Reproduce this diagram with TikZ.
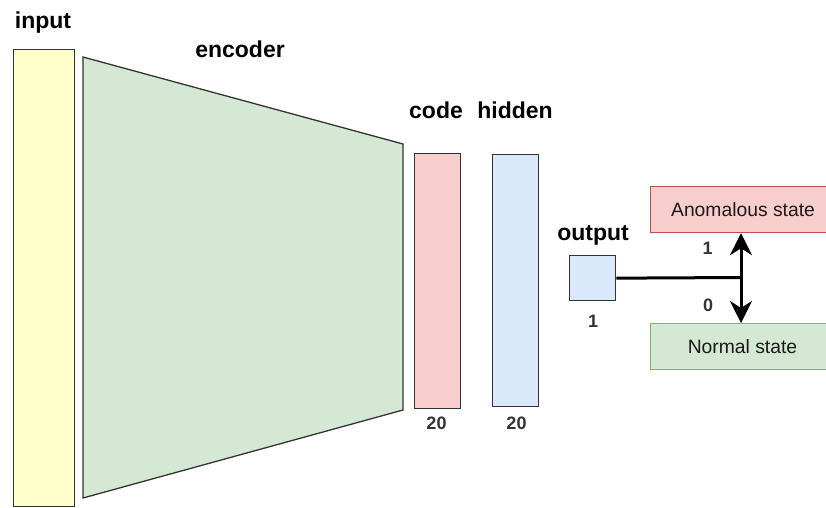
\documentclass[tikz,border=0pt]{standalone}
\usepackage{fontspec}
\setmainfont{Liberation Sans}
\usetikzlibrary{arrows.meta}

\definecolor{inyellow}{HTML}{FFFFCC}
\definecolor{encgreen}{HTML}{D5E8D4}
\definecolor{codered}{HTML}{F8CECC}
\definecolor{hidblue}{HTML}{DAE8FC}
\definecolor{redline}{HTML}{B85450}
\definecolor{greenline}{HTML}{82B366}
\definecolor{darkline}{HTML}{333333}
\definecolor{darktext}{HTML}{1A1A1A}

\tikzset{
  layer/.style={draw=darkline, line width=1.3pt, inner sep=0pt, anchor=north west},
  statebox/.style={line width=1.2pt, inner sep=0pt, anchor=north west},
  title/.style={font=\fontsize{23}{27}\selectfont\bfseries, anchor=base, inner sep=0pt},
  dimlabel/.style={font=\fontsize{18}{20}\selectfont\bfseries, text=darkline, anchor=base, inner sep=0pt},
  statetext/.style={font=\fontsize{19.3}{22}\selectfont, text=darktext, anchor=base, inner sep=0pt},
  wire/.style={line width=3pt, black},
  decision/.style={wire, -{Stealth[length=22pt, width=22pt, inset=7pt]}}
}

\begin{document}
\begin{tikzpicture}[x=1pt, y=-1pt]
  \useasboundingbox (0,0) rectangle (826,507);
  \clip (0,0) rectangle (826,507);

  % input layer
  \node[layer, fill=inyellow, minimum width=61pt, minimum height=457pt] (input) at (12.5,49) {};

  % encoder as a trapezoid narrowing towards the code layer
  \coordinate (encTL) at (83,57);
  \coordinate (encTR) at (403,144);
  \coordinate (encBR) at (403,410);
  \coordinate (encBL) at (83,498);
  \draw[draw=darkline, line width=1.3pt, fill=encgreen, line join=miter]
    (encTL) -- (encTR) -- (encBR) -- (encBL) -- cycle;

  % code and hidden layers
  \node[layer, fill=codered, minimum width=46pt, minimum height=255pt] (code) at (414,152.5) {};
  \node[layer, fill=hidblue, minimum width=46pt, minimum height=252pt] (hidden) at (492,154) {};

  % output unit
  \node[layer, fill=hidblue, minimum width=46pt, minimum height=45pt] (output) at (569,255) {};

  % state boxes
  \node[statebox, draw=redline, fill=codered, minimum width=186pt, minimum height=46pt] (anom) at (650,186) {};
  \node[statebox, draw=greenline, fill=encgreen, minimum width=186pt, minimum height=46pt] (normal) at (650,323) {};

  % titles
  \node[title] (tInput) at (43,28) {input};
  \node[title] (tEncoder) at (240,57) {encoder};
  \node[title] (tCode) at (436,118) {code};
  \node[title] (tHidden) at (515,118) {hidden};
  \node[title] (tOutput) at (593,240) {output};

  % layer sizes
  \node[dimlabel] (nCode) at (436.5,429) {20};
  \node[dimlabel] (nHidden) at (516.5,429) {20};
  \node[dimlabel] (nOutput) at (593,327) {1};

  % state labels
  \node[statetext] (lAnom) at (743,216) {Anomalous state};
  \node[statetext] (lNormal) at (742.5,353) {Normal state};

  % decision connector
  \coordinate (split) at (741,277.5);
  \draw[wire] (output.east) -- (split);
  \draw[decision] (split) -- (split |- anom.south);
  \draw[decision] (split) -- (split |- normal.north);
  \node[dimlabel] (vOne) at (707.5,254) {1};
  \node[dimlabel] (vZero) at (708,311) {0};
\end{tikzpicture}
\end{document}
